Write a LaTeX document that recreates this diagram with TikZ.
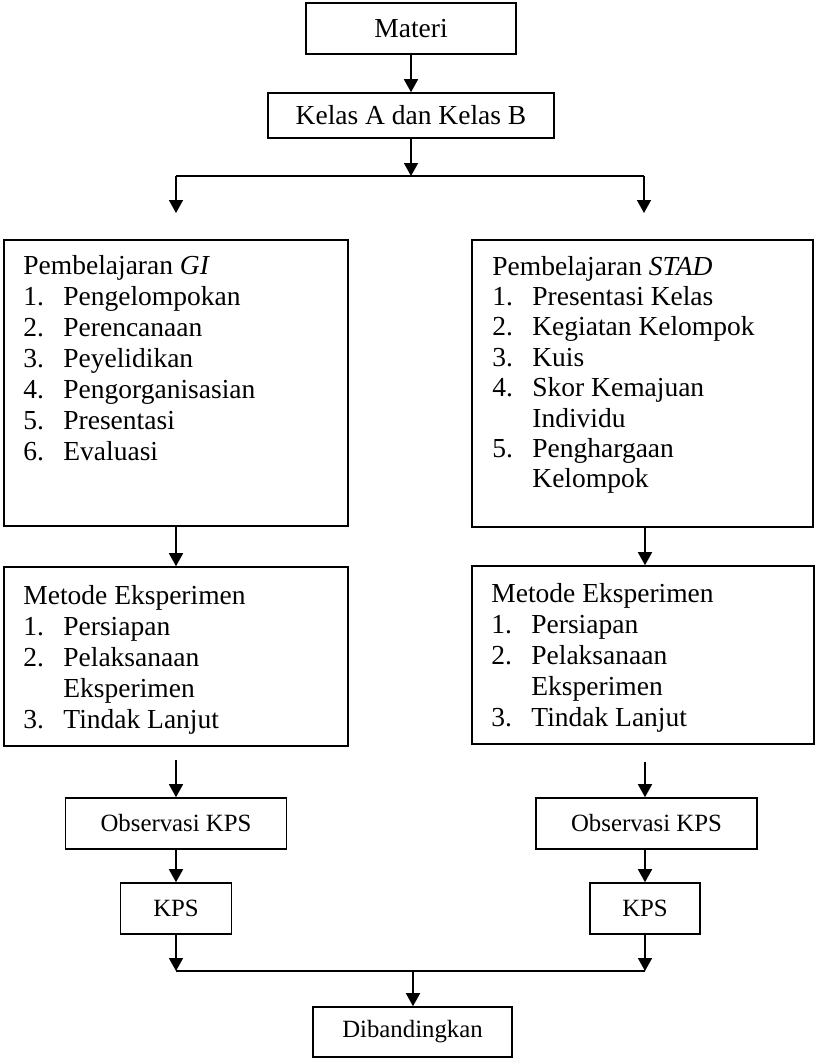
\documentclass[tikz,border=0pt]{standalone}
\usepackage{fontspec}
\setmainfont{Liberation Serif}
\usetikzlibrary{positioning, arrows.meta}

\begin{document}
\begin{tikzpicture}[x=0.5pt, y=-0.5pt]
    % Styles
    \tikzstyle{box} = [draw, line width=0.8pt, inner sep=0pt, font=\fontsize{13.75}{15}\selectfont]
    \tikzstyle{small box} = [box, font=\fontsize{12.4}{14}\selectfont]
    \tikzstyle{list} = [inner sep=0pt, anchor=base west, align=left]
    \tikzstyle{edge} = [-{Triangle[length=6.5pt, width=7pt]}, line width=0.8pt]
    \tikzstyle{join line} = [line width=0.8pt]

    \useasboundingbox (0,0) rectangle (815,1061);

    % Nodes
    \node[box, minimum width=105pt, minimum height=25.5pt] (materi) at (411,28.5) {Materi};
    \node[box, minimum width=143pt, minimum height=22.5pt] (kelas) at (411,115.5) {Kelas A dan Kelas B};

    \node[box, minimum width=172pt, minimum height=143pt] (gi) at (176,383) {};
    \node[box, minimum width=170.5pt, minimum height=143.5pt] (stad) at (642.5,383.5) {};
    \node[box, minimum width=172pt, minimum height=89.5pt] (metodeA) at (176,656.5) {};
    \node[box, minimum width=171pt, minimum height=89pt] (metodeB) at (643,655) {};

    \node[small box, minimum width=110.5pt, minimum height=25.5pt] (obsA) at (176,823.5) {Observasi KPS};
    \node[small box, minimum width=110.5pt, minimum height=25.5pt] (obsB) at (646.5,823.5) {Observasi KPS};
    \node[small box, minimum width=55.5pt, minimum height=25.5pt] (kpsA) at (176,908.5) {KPS};
    \node[small box, minimum width=55pt, minimum height=25.5pt] (kpsB) at (645,908.5) {KPS};
    \node[small box, minimum width=99.5pt, minimum height=25pt] (banding) at (412.5,1032) {Dibandingkan};

    % Lists
    \node[list, font=\fontsize{13.75}{15.5}\selectfont] (giText) at (23,274) {%
        \begin{tabular}[t]{@{}p{20pt}@{}l@{}}
        \multicolumn{2}{@{}l@{}}{Pembelajaran \textit{GI}}\\
        1. & Pengelompokan\\
        2. & Perencanaan\\
        3. & Peyelidikan\\
        4. & Pengorganisasian\\
        5. & Presentasi\\
        6. & Evaluasi
        \end{tabular}};
    \node[list, font=\fontsize{13.75}{15.2}\selectfont] (stadText) at (492,275) {%
        \begin{tabular}[t]{@{}p{20pt}@{}l@{}}
        \multicolumn{2}{@{}l@{}}{Pembelajaran \textit{STAD}}\\
        1. & Presentasi Kelas\\
        2. & Kegiatan Kelompok\\
        3. & Kuis\\
        4. & Skor Kemajuan\\
           & Individu\\
        5. & Penghargaan\\
           & Kelompok
        \end{tabular}};
    \node[list, font=\fontsize{13.75}{15.6}\selectfont] (metodeAText) at (23,604) {%
        \begin{tabular}[t]{@{}p{20pt}@{}l@{}}
        \multicolumn{2}{@{}l@{}}{Metode Eksperimen}\\
        1. & Persiapan\\
        2. & Pelaksanaan\\
           & Eksperimen\\
        3. & Tindak Lanjut
        \end{tabular}};
    \node[list, font=\fontsize{13.75}{15.6}\selectfont] (metodeBText) at (491,602) {%
        \begin{tabular}[t]{@{}p{20pt}@{}l@{}}
        \multicolumn{2}{@{}l@{}}{Metode Eksperimen}\\
        1. & Persiapan\\
        2. & Pelaksanaan\\
           & Eksperimen\\
        3. & Tindak Lanjut
        \end{tabular}};

    % Junctions
    \coordinate (split) at (411,176);
    \coordinate (splitA) at (176,176);
    \coordinate (splitB) at (644,176);
    \coordinate (tipA) at (176,213);
    \coordinate (tipB) at (644,213);
    \coordinate (startA) at (176,760);
    \coordinate (startB) at (645,762);
    \coordinate (mergeA) at (176,971);
    \coordinate (mergeB) at (645,971);
    \coordinate (merge) at (413,971);

    % Edges
    \draw[edge] (materi) -- (kelas);
    \draw[edge] (kelas) -- (split);
    \draw[join line] (splitA) -- (splitB);
    \draw[edge] (splitA) -- (tipA);
    \draw[edge] (splitB) -- (tipB);
    \draw[edge] (gi.south -| startA) -- (metodeA.north -| startA);
    \draw[edge] (stad.south -| startB) -- (metodeB.north -| startB);
    \draw[edge] (startA) -- (obsA.north -| startA);
    \draw[edge] (startB) -- (obsB.north -| startB);
    \draw[edge] (obsA) -- (kpsA);
    \draw[edge] (obsB.south -| kpsB) -- (kpsB);
    \draw[edge] (kpsA) -- (mergeA);
    \draw[edge] (kpsB) -- (mergeB);
    \draw[join line] (mergeA) -- (mergeB);
    \draw[edge] (merge) -- (banding.north -| merge);
\end{tikzpicture}
\end{document}
